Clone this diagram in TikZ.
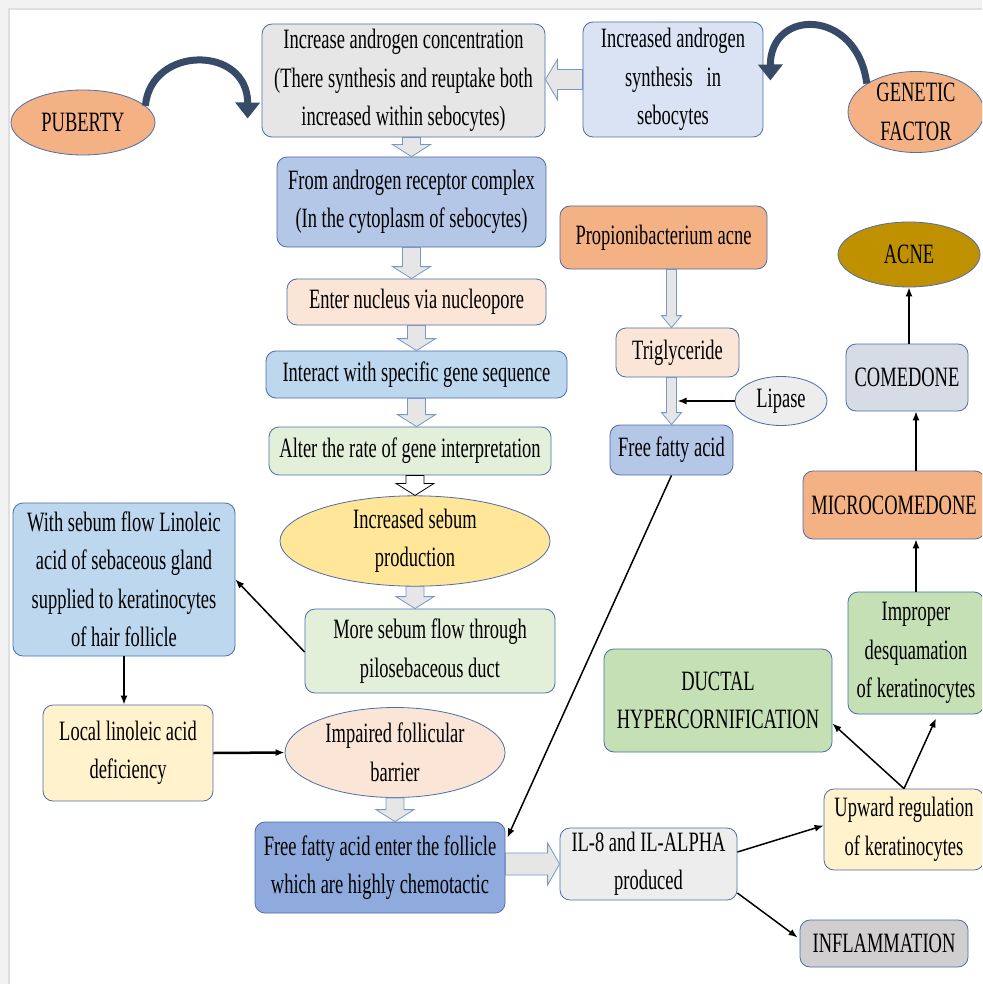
\documentclass[tikz,border=0pt]{standalone}
\usepackage{fontspec}
\setmainfont[FakeStretch=0.66]{Liberation Serif}
\usetikzlibrary{calc,arrows.meta,shapes.geometric}
\definecolor{edge}{RGB}{75,110,170}
\definecolor{blkedge}{RGB}{120,150,200}
\definecolor{blkfill}{RGB}{230,230,230}
\definecolor{curvcol}{RGB}{55,75,105}
\definecolor{cgrey}{RGB}{231,230,230}
\definecolor{cpale}{RGB}{218,227,243}
\definecolor{corange}{RGB}{244,177,131}
\definecolor{cblue}{RGB}{180,199,231}
\definecolor{cpeach}{RGB}{251,229,214}
\definecolor{csky}{RGB}{189,215,238}
\definecolor{cmint}{RGB}{226,240,217}
\definecolor{cyellow}{RGB}{255,230,153}
\definecolor{ccream}{RGB}{255,242,204}
\definecolor{cdeep}{RGB}{143,170,220}
\definecolor{clight}{RGB}{237,237,237}
\definecolor{cgrey2}{RGB}{208,206,206}
\definecolor{cgreen}{RGB}{197,224,180}
\definecolor{cslate}{RGB}{214,220,229}
\definecolor{cgold}{RGB}{191,144,0}

% block arrow: style, from, to, half shaft, half head
\newcommand{\blkarrow}[5][blk]{%
  \path (#2) coordinate (bs) (#3) coordinate (bt) ($(bt)!12pt!(bs)$) coordinate (bh);
  \draw[#1] ($(bs)!#4!90:(bt)$) -- ($(bh)!#4!90:(bt)$) -- ($(bh)!#5!90:(bt)$) -- (bt)
    -- ($(bh)!#5!-90:(bt)$) -- ($(bh)!#4!-90:(bt)$) -- ($(bs)!#4!-90:(bt)$) -- cycle;}

\begin{document}
\begin{tikzpicture}[x=1pt,y=-1pt,
  box/.style={draw=edge,line width=0.8pt,rounded corners=10pt,align=center,inner sep=0pt},
  oval/.style={ellipse,draw=edge,line width=0.8pt,align=center,inner sep=0pt},
  blk/.style={draw=blkedge,fill=blkfill,line width=0.8pt},
  blkw/.style={draw=black,fill=white,line width=0.8pt},
  con/.style={draw=black,line width=1.5pt,-{Latex[length=9pt,width=7pt]}},
  curv/.style={draw=curvcol,line width=7pt,-{Triangle[length=16pt,width=24pt]}},
  font=\fontsize{28}{38.5}\selectfont]
\clip (0,0) rectangle (982,984);
\fill[white] (0,0) rectangle (982,984);
\fill[gray!10] (0,0) rectangle (982,9);
\fill[gray!10] (0,0) rectangle (9,984);
\draw[gray!25,line width=1.5pt] (9,984) -- (9,9) -- (982,9);

% androgen chain
\node[box,fill=cgrey,minimum width=283pt,minimum height=113pt] (andro) at (403.5,80.5) {Increase androgen concentration\\(There synthesis and reuptake both\\increased within sebocytes)};
\node[box,fill=cpale,minimum width=180pt,minimum height=115pt] (synth) at (673,79.5) {Increased androgen\\synthesis~~ in\\sebocytes};
\node[oval,fill=corange,minimum width=144pt,minimum height=65pt] (puberty) at (83,122.5) {PUBERTY};
\node[oval,fill=corange,minimum width=136pt,minimum height=75pt] (genetic) at (916,112) {GENETIC\\FACTOR};
\node[box,fill=cblue,minimum width=269pt,minimum height=90pt] (arc) at (411.5,202) {From androgen receptor complex\\(In the cytoplasm of sebocytes)};
\node[box,fill=cpeach,minimum width=259pt,minimum height=46pt] (nucleus) at (416.5,302) {Enter nucleus via nucleopore};
\node[box,fill=csky,minimum width=301pt,minimum height=47pt] (gene) at (416.5,374.5) {Interact with specific gene sequence};
\node[box,fill=cmint,minimum width=282pt,minimum height=48pt] (rate) at (410,451) {Alter the rate of gene interpretation};
\node[oval,fill=cyellow,minimum width=270pt,minimum height=78pt] (sebum) at (415,541) {Increased sebum\\production};
\node[box,fill=cmint,minimum width=250pt,minimum height=84pt] (flow) at (430,651) {More sebum flow through\\pilosebaceous duct};

% linoleic branch
\node[box,fill=csky,minimum width=222pt,minimum height=153pt] (linol) at (124,579.5) {With sebum flow Linoleic\\acid of sebaceous gland\\supplied to keratinocytes\\of hair follicle};
\node[box,fill=ccream,minimum width=170pt,minimum height=96pt] (defic) at (128,753) {Local linoleic acid\\deficiency};
\node[oval,fill=cpeach,minimum width=220pt,minimum height=90pt] (barrier) at (395,752.5) {Impaired follicular\\barrier};
\node[box,fill=cdeep,minimum width=250pt,minimum height=91pt] (ffa) at (380,867.5) {Free fatty acid enter the follicle\\which are highly chemotactic};
\node[box,fill=clight,minimum width=177pt,minimum height=72pt] (il) at (648.5,864) {IL-8 and IL-ALPHA\\produced};
\node[box,fill=ccream,minimum width=160pt,minimum height=81pt] (upreg) at (904,829.5) {Upward regulation\\of keratinocytes};
\node[box,fill=cgrey2,minimum width=168pt,minimum height=47pt] (inflam) at (884,943.5) {INFLAMMATION};

% comedone chain
\node[box,fill=cgreen,minimum width=228pt,minimum height=103pt] (ductal) at (718,700.5) {DUCTAL\\HYPERCORNIFICATION};
\node[box,fill=cgreen,minimum width=136pt,minimum height=122pt] (desq) at (916,653) {Improper\\desquamation\\of keratinocytes};
\node[box,fill=corange,minimum width=182pt,minimum height=68pt] (micro) at (894,505) {MICROCOMEDONE};
\node[box,fill=cslate,minimum width=122pt,minimum height=67pt] (comedo) at (907,377.5) {COMEDONE};
\node[oval,fill=cgold,minimum width=142pt,minimum height=65pt] (acne) at (909,254.5) {ACNE};

% bacteria branch
\node[box,fill=corange,minimum width=207pt,minimum height=63pt] (pacne) at (663.5,237.5) {Propionibacterium acne};
\node[box,fill=cpeach,minimum width=123pt,minimum height=49pt] (trig) at (677.5,352.5) {Triglyceride};
\node[box,fill=cblue,minimum width=123pt,minimum height=50pt] (fatty) at (671.5,450) {Free fatty acid};
\node[oval,fill=clight,minimum width=92pt,minimum height=49pt] (lipase) at (781,401) {Lipase};
\coordinate (lp) at ($(fatty.north |- lipase.west)+(6,0)$);

% block arrows
\blkarrow{synth.west}{andro.east |- synth.west}{10pt}{20pt}
\blkarrow{arc.north |- andro.south}{arc.north}{9pt}{19pt}
\blkarrow{arc.south}{arc.south |- nucleus.north}{9pt}{19pt}
\blkarrow{nucleus.south}{nucleus.south |- gene.north}{9pt}{19pt}
\blkarrow{gene.south}{gene.south |- rate.north}{9pt}{19pt}
\blkarrow[blkw]{sebum.north |- rate.south}{sebum.north}{9pt}{19pt}
\blkarrow{sebum.south}{sebum.south |- flow.north}{9pt}{19pt}
\blkarrow{barrier.south}{barrier.south |- ffa.north}{9pt}{19pt}
\blkarrow{ffa.east |- il.west}{il.west}{11pt}{21pt}
\blkarrow{fatty.north |- pacne.south}{fatty.north |- trig.north}{5pt}{10pt}
\blkarrow{fatty.north |- trig.south}{fatty.north}{5pt}{10pt}

% curved arrows
\draw[curv] (puberty.15) .. controls (151,45) and (248,45) .. ($(andro.west)+(-14,38)$);
\draw[curv] (genetic.150) .. controls (857,8) and (770,8) .. ($(synth.east)+(7,1)$);

% line connectors
\draw[con] (lipase.west) -- (lp);
\draw[con] (fatty.south) -- ($(ffa.north east)+(2,16)$);
\draw[con] ($(flow.west)+(0,1)$) -- ($(linol.east)+(0,0)$);
\draw[con] (linol.south) -- (linol.south |- defic.north);
\draw[con,line width=2.5pt] (defic.east) -- (barrier.west);
\draw[con] ($(il.east)+(0,-12)$) -- ($(upreg.west)+(0,-4)$);
\draw[con] ($(il.east)+(0,29)$) -- ($(inflam.west)+(-2,-6)$);
\draw[con] (upreg.north) -- ($(ductal.east)+(0,23)$);
\draw[con] (upreg.north) -- ($(desq.south)+(20,4)$);
\draw[con] (desq.north) -- (desq.north |- micro.south);
\draw[con] (micro.north -| desq.north) -- (desq.north |- comedo.south);
\draw[con] (comedo.north -| acne.south) -- (acne.south);
\end{tikzpicture}
\end{document}
